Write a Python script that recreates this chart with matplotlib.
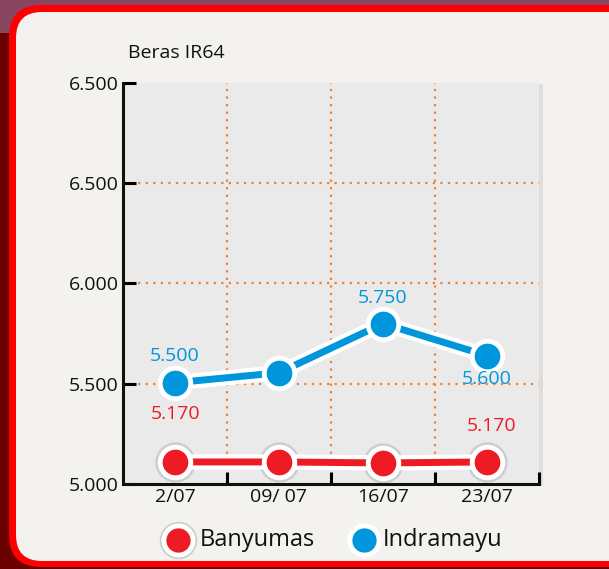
import matplotlib
matplotlib.use("Agg")
import matplotlib.pyplot as plt
import matplotlib.patheffects as pe
from matplotlib.patches import FancyBboxPatch, Rectangle

plt.rcParams['font.family'] = ['Open Sans', 'DejaVu Sans']

# ---- data ----
title = "Beras IR64"
categories = ["2/07", "09/ 07", "16/07", "23/07"]
banyumas = [5110, 5110, 5105, 5110]
indramayu = [5505, 5555, 5800, 5640]
banyumas_labels = ["5.170", "", "", "5.170"]
indramayu_labels = ["5.500", "", "5.750", "5.600"]
y_ticks = [5000, 5500, 6000, 6500, 7000]
y_tick_labels = ["5.000", "5.500", "6.000", "6.500", "6.500"]
series_names = ["Banyumas", "Indramayu"]

RED = "#ED1C24"
BLUE = "#0096DB"
ORANGE = "#F07F2F"
FS = 14

W, H = 609, 569
fig = plt.figure(figsize=(W / 100, H / 100), dpi=100)
fig.patch.set_facecolor("#6A0000")

# background axes in pixel coords
bg = fig.add_axes([0, 0, 1, 1], zorder=-5)
bg.set_xlim(0, W)
bg.set_ylim(H, 0)
bg.axis("off")
bg.add_patch(Rectangle((0, 0), W, 33, facecolor="#8A4560", edgecolor="none"))
bg.add_patch(FancyBboxPatch((9, 5), 640, 562, boxstyle="round,pad=0,rounding_size=32",
                            facecolor="#FF0000", edgecolor="none"))
bg.add_patch(FancyBboxPatch((16, 12), 630, 549, boxstyle="round,pad=0,rounding_size=26",
                            facecolor="#F3F2EE", edgecolor="none"))
# plot-area shadow
bg.add_patch(Rectangle((126, 84), 417, 402, facecolor="#DEDDD9", edgecolor="none"))
bg.text(128, 53, title, fontsize=FS, color="#111111", va="center", ha="left")

# main axes
left, right, top, bottom = 123, 539, 83, 484
ax = fig.add_axes([left / W, (H - bottom) / H, (right - left) / W, (bottom - top) / H])
ax.set_facecolor("#EAEAEA")
x = list(range(len(categories)))
ax.set_xlim(-0.5, len(categories) - 0.5)
ax.set_ylim(5000, 7000)

# grid
for gx in [0.5, 1.5, 2.5]:
    ax.axvline(gx, color=ORANGE, linestyle=(0, (1, 2.4)), linewidth=1.6, zorder=1)
for gy in y_ticks[1:-1]:
    ax.axhline(gy, color=ORANGE, linestyle=(0, (1, 2.4)), linewidth=1.6, zorder=1)

# spines / ticks
for s in ["top", "right"]:
    ax.spines[s].set_visible(False)
for s in ["left", "bottom"]:
    ax.spines[s].set_linewidth(2.2)
    ax.spines[s].set_color("#111111")
ax.set_yticks(y_ticks)
ax.set_yticklabels(y_tick_labels, fontsize=FS, color="#111111")
ax.tick_params(axis="y", direction="in", length=9, width=2.2, pad=3)
ax.set_xticks([0.5, 1.5, 2.5, 3.5])
ax.set_xticklabels([])
ax.tick_params(axis="x", which="major", direction="in", length=9, width=2.2)
ax.set_xticks(x, minor=True)
ax.set_xticklabels(categories, minor=True, fontsize=FS, color="#111111")
ax.tick_params(axis="x", which="minor", length=0, pad=3)

stroke = [pe.Stroke(linewidth=11, foreground="white"), pe.Normal()]
# shadow under markers
ax.plot(x, banyumas, "o", markersize=29, color="#000000", alpha=0.12, zorder=2,
        markeredgewidth=0)
ax.plot(x, banyumas, color=RED, linewidth=5, zorder=3, path_effects=stroke)
ax.plot(x, banyumas, "o", markersize=22, markerfacecolor=RED, markeredgecolor="white",
        markeredgewidth=3.5, zorder=4, linestyle="none")
ax.plot(x, indramayu, color=BLUE, linewidth=5, zorder=3, path_effects=stroke)
ax.plot(x, indramayu, "o", markersize=22, markerfacecolor=BLUE, markeredgecolor="white",
        markeredgewidth=3.5, zorder=4, linestyle="none")

ind_offsets = {0: (0, 27), 2: (0, 26), 3: (0, -23)}
ban_offsets = {0: (1, 48), 3: (5, 36)}
for i, lab in enumerate(indramayu_labels):
    if lab:
        ax.annotate(lab, (x[i], indramayu[i]), xytext=ind_offsets[i], textcoords="offset pixels",
                    ha="center", va="center", color=BLUE, fontsize=FS, zorder=6)
for i, lab in enumerate(banyumas_labels):
    if lab:
        ax.annotate(lab, (x[i], banyumas[i]), xytext=ban_offsets[i], textcoords="offset pixels",
                    ha="center", va="center", color=RED, fontsize=FS, zorder=6)

# legend drawn in pixel coords on background axes
leg_y = 540
bg.plot([178], [leg_y], "o", markersize=27, color="black", alpha=0.15, markeredgewidth=0)
bg.plot([178], [leg_y], "o", markersize=21, markerfacecolor=RED, markeredgecolor="white",
        markeredgewidth=3.5)
bg.text(200, leg_y, series_names[0], fontsize=17, color="#111111", va="center", ha="left")
bg.plot([364], [leg_y], "o", markersize=21, markerfacecolor=BLUE, markeredgecolor="white",
        markeredgewidth=3.5)
bg.text(383, leg_y, series_names[1], fontsize=17, color="#111111", va="center", ha="left")

fig.savefig("out.png", dpi=100, facecolor=fig.get_facecolor())
